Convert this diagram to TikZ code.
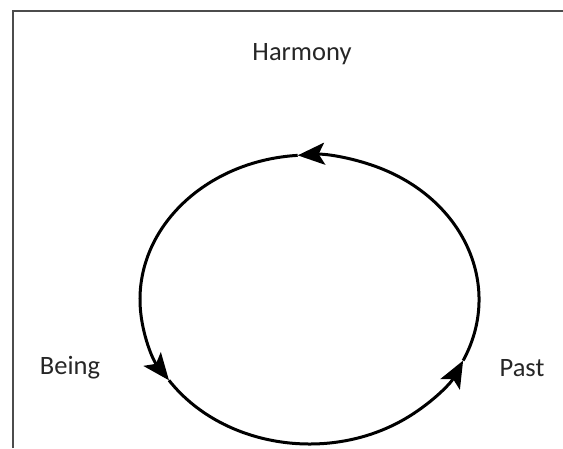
\documentclass[tikz,border=0pt]{standalone}
\usepackage{fontspec}
\setmainfont{Carlito}
\usetikzlibrary{arrows.meta}
\begin{document}
\begin{tikzpicture}[x=1pt,y=1pt,
  lbl/.style={font=\fontsize{26.5}{30}\selectfont, text=black!85, inner sep=0pt},
  frameline/.style={line width=2pt, black!70},
  cyc/.style={line width=3pt, -{Stealth[length=27pt,width=22pt,inset=6pt]}}]
\useasboundingbox (0,0) rectangle (563,448);
\draw[frameline] (13,0) -- (13,437) -- (563,437);
\coordinate (c) at (309.5,148.5);
\draw[cyc] (c) ++(94:169.5 and 144.5) arc[start angle=94,end angle=214,x radius=169.5,y radius=144.5];
\draw[cyc] (c) ++(214:169.5 and 144.5) arc[start angle=214,end angle=335,x radius=169.5,y radius=144.5];
\draw[cyc] (c) ++(335:169.5 and 144.5) arc[start angle=335,end angle=454,x radius=169.5,y radius=144.5];
\node[lbl] (harmony) at (302,394) {Harmony};
\node[lbl] (being) at (70,80) {Being};
\node[lbl] (past) at (522,80) {Past};
\end{tikzpicture}
\end{document}
